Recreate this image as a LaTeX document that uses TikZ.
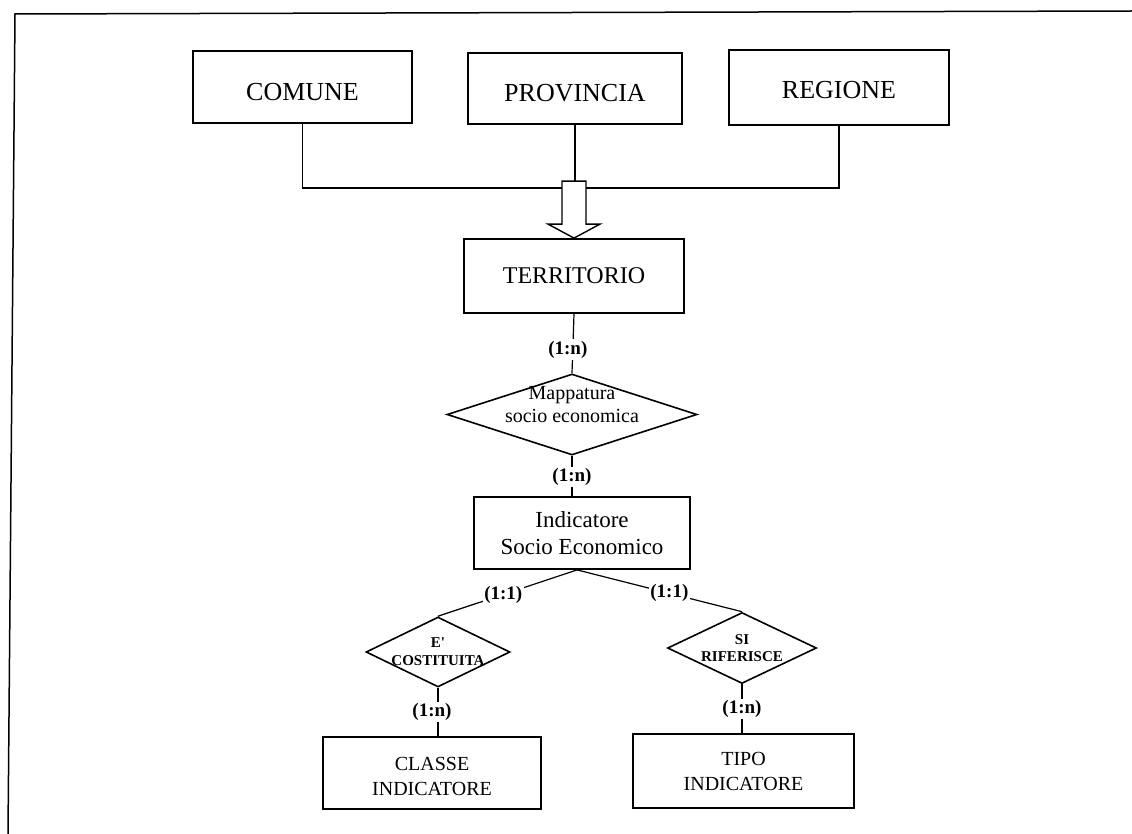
\documentclass[tikz,border=0pt]{standalone}
\usepackage{fontspec}
\setmainfont{Liberation Serif}
\usetikzlibrary{shapes.geometric,calc}
\tikzset{
  ent/.style={draw, line width=1.8pt, inner sep=0pt, align=center},
  rel/.style={draw, diamond, line width=1.6pt, inner sep=0pt},
  conn/.style={line width=1.5pt},
  card/.style={fill=white, inner sep=1.5pt, font=\fontsize{19}{22}\selectfont\bfseries},
  frame/.style={line width=1.5pt}
}
\begin{document}
\begin{tikzpicture}[x=1pt,y=-1pt]
\useasboundingbox (0,0) rectangle (1132,834);
\draw[frame] (1132,11) -- (15,14) -- (8,834);

% entities
\node[ent, minimum width=219pt, minimum height=72pt, font=\fontsize{26}{30}\selectfont] (com) at (302.5,87) {\raisebox{0pt}[28pt][0pt]{COMUNE}};
\node[ent, minimum width=214pt, minimum height=71pt, font=\fontsize{26}{30}\selectfont] (prov) at (575,88.5) {\raisebox{0pt}[27pt][0pt]{PROVINCIA}};
\node[ent, minimum width=220pt, minimum height=75pt, font=\fontsize{26}{30}\selectfont] (reg) at (839,87.5) {\raisebox{0pt}[22pt][0pt]{REGIONE}};
\node[ent, minimum width=220pt, minimum height=74pt, font=\fontsize{24}{28}\selectfont] (terr) at (574,276) {TERRITORIO};
\node[ent, minimum width=216pt, minimum height=72pt, font=\fontsize{23}{27}\selectfont] (ind) at (582,533) {Indicatore\\Socio Economico};
\node[ent, minimum width=218pt, minimum height=72pt, font=\fontsize{20}{25}\selectfont] (cls) at (432,773) {\raisebox{0pt}[20pt][0pt]{CLASSE}\\INDICATORE};
\node[ent, minimum width=221pt, minimum height=74pt, font=\fontsize{20}{25}\selectfont] (tipo) at (743.5,771) {TIPO\\INDICATORE};

% relationships
\node[rel, minimum width=250pt, minimum height=81pt,
  label={[align=center, yshift=10pt, font=\fontsize{20}{23}\selectfont]center:Mappatura\\socio economica}] (map) at (572,414.5) {};
\node[rel, minimum width=144pt, minimum height=70pt,
  label={[align=center, font=\fontsize{15}{18}\selectfont\bfseries]center:E\textquotesingle\\COSTITUITA}] (cost) at (438,652) {};
\node[rel, minimum width=149pt, minimum height=71pt,
  label={[align=center, font=\fontsize{15}{17}\selectfont\bfseries]center:SI\\RIFERISCE}] (rif) at (742,648) {};

% generalisation connectors
\coordinate (hub) at (574,188);
\coordinate (atop) at ($(terr.north)+(0,-57)$);
\draw[conn] (com.south) |- (hub) -| (reg.south);
\draw[conn] (prov.south) -- (prov.south |- atop);
\draw[line width=1.4pt, fill=white, line join=miter]
  (terr.north) -- +(-26,-14) -- +(-12,-14) -- +(-12,-57) -- +(12,-57) -- +(12,-14) -- +(26,-14) -- cycle;

% relationship connectors
\draw[line width=1.2pt] (terr.south) -- node[card, pos=0.6, xshift=-5pt] {(1:n)} (map.north);
\draw[line width=1.2pt] (map.south) -- node[card, pos=0.52] {(1:n)} (ind.north -| map.south);
\coordinate (indb) at ($(ind.south)+(-5,0)$);
\draw[line width=1.2pt] (indb) -- node[card, pos=0.53] {(1:1)} (cost.north);
\draw[line width=1.2pt] (indb) -- node[card, pos=0.56] {(1:1)} (rif.north);
\draw[conn] (cost.south) -- node[card, pos=0.5, xshift=-6pt] {(1:n)} (cls.north -| cost.south);
\draw[conn] (rif.south) -- node[card, pos=0.5] {(1:n)} (tipo.north -| rif.south);
\end{tikzpicture}
\end{document}
